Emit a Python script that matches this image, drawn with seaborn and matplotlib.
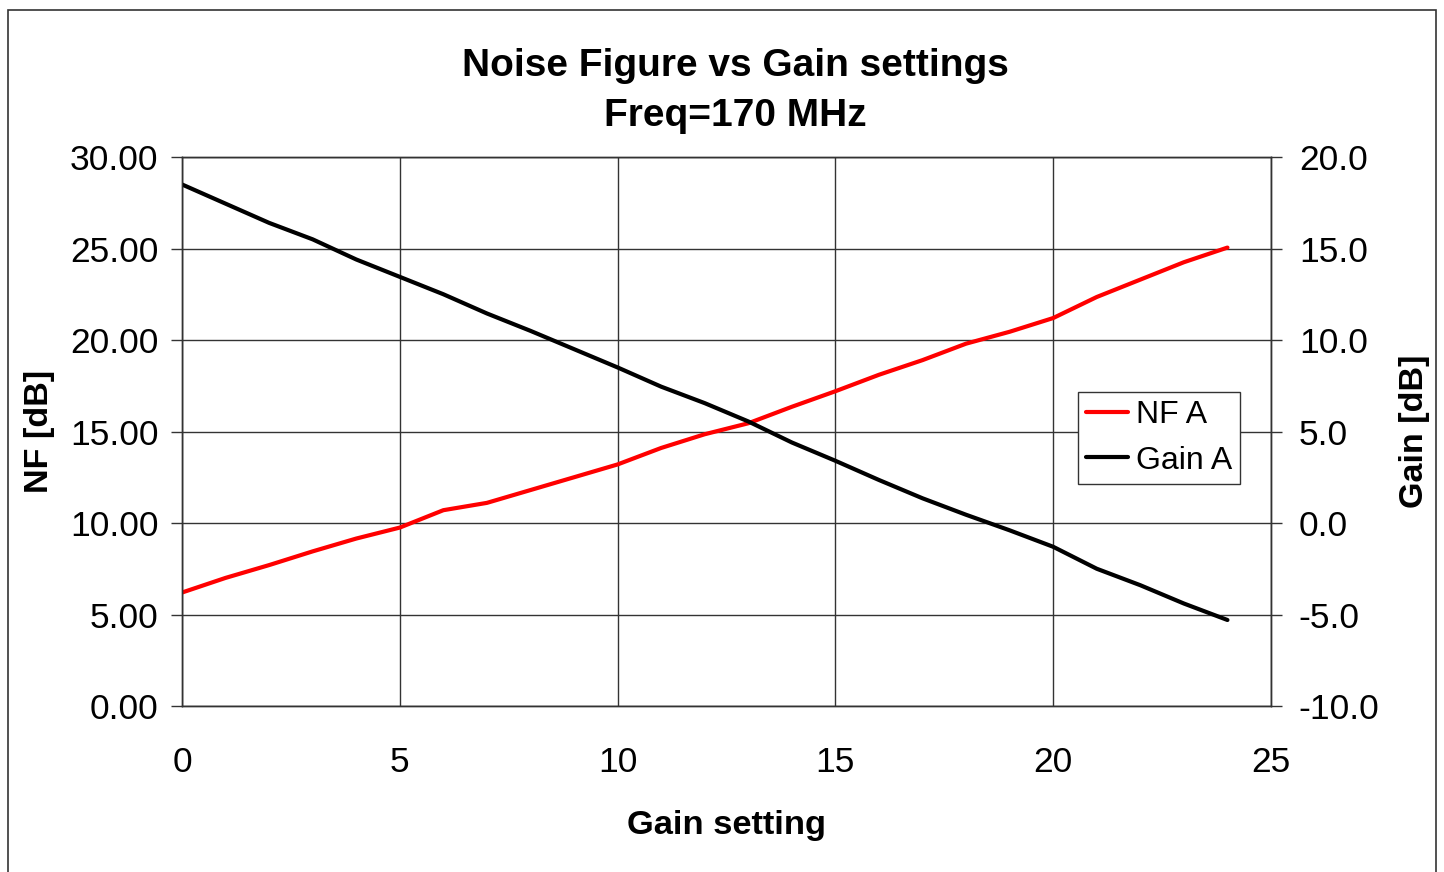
#!/usr/bin/python3

import matplotlib
matplotlib.use('Agg')
import pandas as pd
import seaborn as sns
from matplotlib import pyplot as plt
from matplotlib.lines import Line2D
from matplotlib.patches import Rectangle

gain_setting = [0, 1, 2, 3, 4, 5, 6, 7, 8, 9, 10, 11, 12,
                13, 14, 15, 16, 17, 18, 19, 20, 21, 22, 23, 24]
nf_a = [6.2, 7.0, 7.7, 8.45, 9.15, 9.75, 10.7, 11.1, 11.8, 12.5, 13.2, 14.1, 14.85,
        15.45, 16.35, 17.2, 18.1, 18.9, 19.8, 20.45, 21.2, 22.35, 23.3, 24.25, 25.05]
gain_a = [18.5, 17.45, 16.4, 15.5, 14.4, 13.45, 12.5, 11.45, 10.5, 9.5, 8.5, 7.45, 6.55,
          5.55, 4.4, 3.4, 2.35, 1.35, 0.45, -0.4, -1.3, -2.5, -3.4, -4.4, -5.3]

df = pd.DataFrame({'setting': gain_setting, 'nf': nf_a, 'gain': gain_a})

sns.set_style('white')
plt.rcParams['font.family'] = ['Liberation Sans', 'DejaVu Sans']
plt.rcParams['text.color'] = 'black'
plt.rcParams['axes.labelcolor'] = 'black'
plt.rcParams['xtick.color'] = 'black'
plt.rcParams['ytick.color'] = 'black'

fig = plt.figure(figsize=(14.44, 8.72), dpi=100)
ax = fig.add_axes([182 / 1444, 1 - 706 / 872, (1271 - 182) / 1444, (706 - 157) / 872])
ax2 = ax.twinx()

sns.lineplot(data=df, x='setting', y='nf', ax=ax, color='#ff0000', linewidth=3.0)
sns.lineplot(data=df, x='setting', y='gain', ax=ax2, color='#000000', linewidth=3.0)

ax.set_xlim(0, 25)
ax.set_ylim(0, 30)
ax2.set_ylim(-10, 20)
ax.set_xticks(range(0, 26, 5))
ax.set_yticks(range(0, 31, 5))
ax2.set_yticks(range(-10, 21, 5))
ax.set_yticklabels(['%.2f' % v for v in range(0, 31, 5)])
ax2.set_yticklabels(['%.1f' % v for v in range(-10, 21, 5)])

ax.grid(True, color='#333333', linewidth=1.0)
ax.set_axisbelow(True)
for a in (ax, ax2):
    for s in a.spines.values():
        s.set_color('#333333')
        s.set_linewidth(1.0)
ax.tick_params(axis='both', direction='out', length=8, width=1, color='#333333',
               labelsize=25.5)
ax.tick_params(axis='x', pad=21)
ax.tick_params(axis='y', pad=9)
ax2.tick_params(axis='y', direction='out', length=8, width=1, color='#333333',
                labelsize=25.5, pad=12)

ax.set_xlabel('Gain setting', fontsize=24.8, fontweight='bold', labelpad=22)
ax.set_ylabel('NF [dB]', fontsize=24.6, fontweight='bold', labelpad=11)
ax2.set_ylabel('Gain [dB]', fontsize=24.6, fontweight='bold', labelpad=14)
ax.set_title('Noise Figure vs Gain settings\nFreq=170 MHz', fontsize=28,
             fontweight='bold', pad=22, linespacing=1.5, x=0.508)

handles = [Line2D([], [], color='#ff0000', linewidth=3.0),
           Line2D([], [], color='#000000', linewidth=3.0)]
leg = ax2.legend(handles, ['NF A', 'Gain A'], loc='center left',
                 bbox_to_anchor=((1078 - 182) / 1089, (706 - 438) / 549),
                 fontsize=23, frameon=True, fancybox=False, framealpha=1,
                 edgecolor='#333333', handlelength=1.3, handletextpad=0.25,
                 borderpad=0.25, labelspacing=0.48, borderaxespad=0)
leg.get_frame().set_linewidth(1.0)

fig.patches.append(Rectangle((8 / 1444, -0.01), 1428 / 1444, 1 - 10 / 872 + 0.01,
                             transform=fig.transFigure, fill=False,
                             edgecolor='#333333', linewidth=1.2))

fig.savefig('out.png', dpi=100)
plt.close(fig)
